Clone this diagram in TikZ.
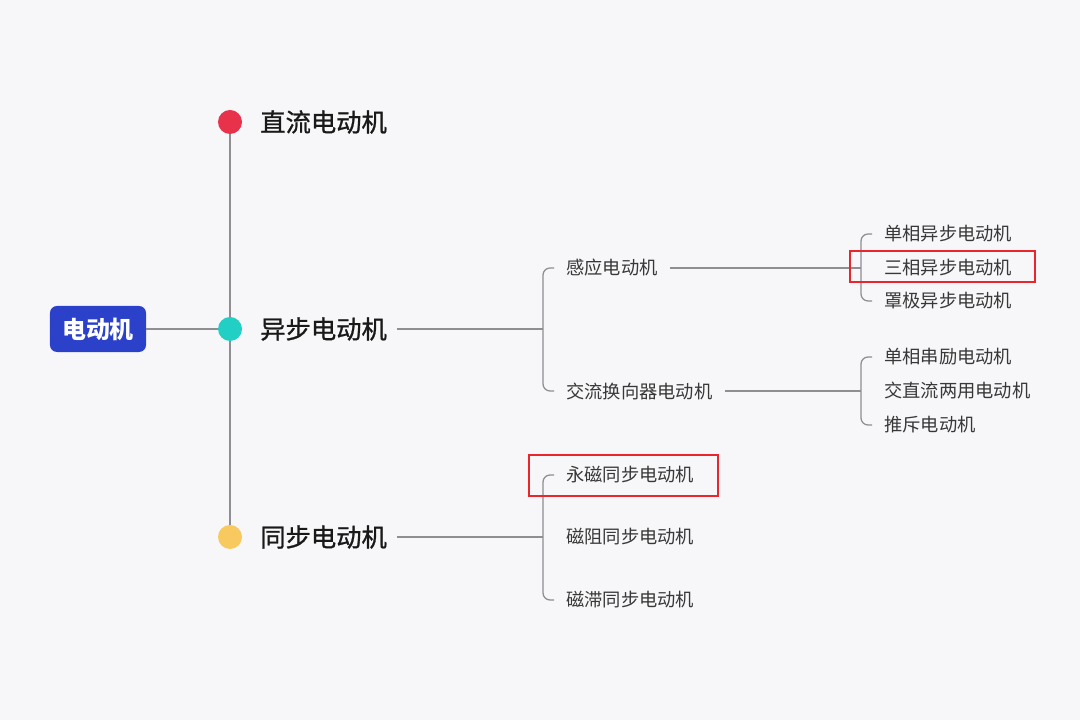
\documentclass[tikz,border=0pt]{standalone}
\usepackage{fontspec}
\setmainfont{Noto Sans CJK SC}
\newfontfamily\labelfont{Noto Sans CJK SC}[FakeBold=1]
\usepackage{tikz}
\usetikzlibrary{positioning}
\definecolor{bgcol}{HTML}{F7F7F9}
\definecolor{rootblue}{HTML}{2C41C9}
\definecolor{dotred}{HTML}{E8314A}
\definecolor{dotteal}{HTML}{22CFC4}
\definecolor{dotyellow}{HTML}{F8C95E}
\definecolor{linegray}{HTML}{8E8E93}
\definecolor{markred}{HTML}{E8262C}
\tikzstyle{root} = [
    rectangle,
    rounded corners=5pt,
    minimum width=2.4cm, minimum height=1.15cm,
    text centered, text=white,
    font=\fontsize{17}{20}\selectfont\bfseries,
    fill=rootblue]
\tikzstyle{dot} = [
    circle,
    minimum size=0.6cm, inner sep=0pt]
\tikzstyle{main} = [
    anchor=west, inner xsep=0.25cm,
    font=\labelfont\fontsize{18}{22}\selectfont,
    text=black!90]
\tikzstyle{sub} = [
    anchor=west, inner xsep=0.3cm,
    font=\fontsize{13}{16}\selectfont,
    text=black!78]
\tikzstyle{link} = [draw=linegray, line width=0.9pt]
\tikzstyle{hook} = [link, rounded corners=5pt]
\tikzstyle{markbox} = [draw=markred, line width=1.3pt]

\begin{document}
\begin{tikzpicture}[x=0.025cm, y=-0.025cm]
        \useasboundingbox[fill=bgcol] (0,0) rectangle (1080,720);

        \node (root) [root] at (98,329) {电动机};

        \node (dc) [dot, fill=dotred] at (230,122) {};
        \node (asyn) [dot, fill=dotteal] at (230,329) {};
        \node (syn) [dot, fill=dotyellow] at (230,537) {};

        \node (dc_t) [main] at (250,122) {直流电动机};
        \node (asyn_t) [main] at (250,329) {异步电动机};
        \node (syn_t) [main] at (250,537) {同步电动机};

        % asynchronous
        \node (induct) [sub] at (554,268) {感应电动机};
        \node (commut) [sub] at (554,391) {交流换向器电动机};

        \node (single) [sub] at (872,234) {单相异步电动机};
        \node (three) [sub] at (872,268) {三相异步电动机};
        \node (shaded) [sub] at (872,301) {罩极异步电动机};

        \node (series) [sub] at (872,357) {单相串励电动机};
        \node (univ) [sub] at (872,391) {交直流两用电动机};
        \node (repul) [sub] at (872,425) {推斥电动机};

        % synchronous
        \node (pm) [sub] at (554,475) {永磁同步电动机};
        \node (reluct) [sub] at (554,537) {磁阻同步电动机};
        \node (hyst) [sub] at (554,600) {磁滞同步电动机};

        \coordinate (asyn_b) at (543,329);
        \coordinate (induct_b) at (861,268);
        \coordinate (commut_b) at (861,391);
        \coordinate (syn_b) at (543,537);

        \draw [link] (root) -- (asyn);
        \draw [link] (dc) -- (asyn);
        \draw [link] (asyn) -- (syn);

        \draw [link] (asyn_t) -- (asyn_b);
        \draw [hook] (induct.west) -| (asyn_b) |- (commut.west);

        \draw [link] (induct) -- (induct_b);
        \draw [hook] (single.west) -| (induct_b) |- (shaded.west);

        \draw [link] (commut) -- (commut_b);
        \draw [hook] (series.west) -| (commut_b) |- (repul.west);

        \draw [link] (syn_t) -- (syn_b);
        \draw [hook] (pm.west) -| (syn_b) |- (hyst.west);

        \draw [markbox] (850,251) rectangle (1035,282);
        \draw [markbox] (529,455) rectangle (718,496);
    \end{tikzpicture}
\end{document}
